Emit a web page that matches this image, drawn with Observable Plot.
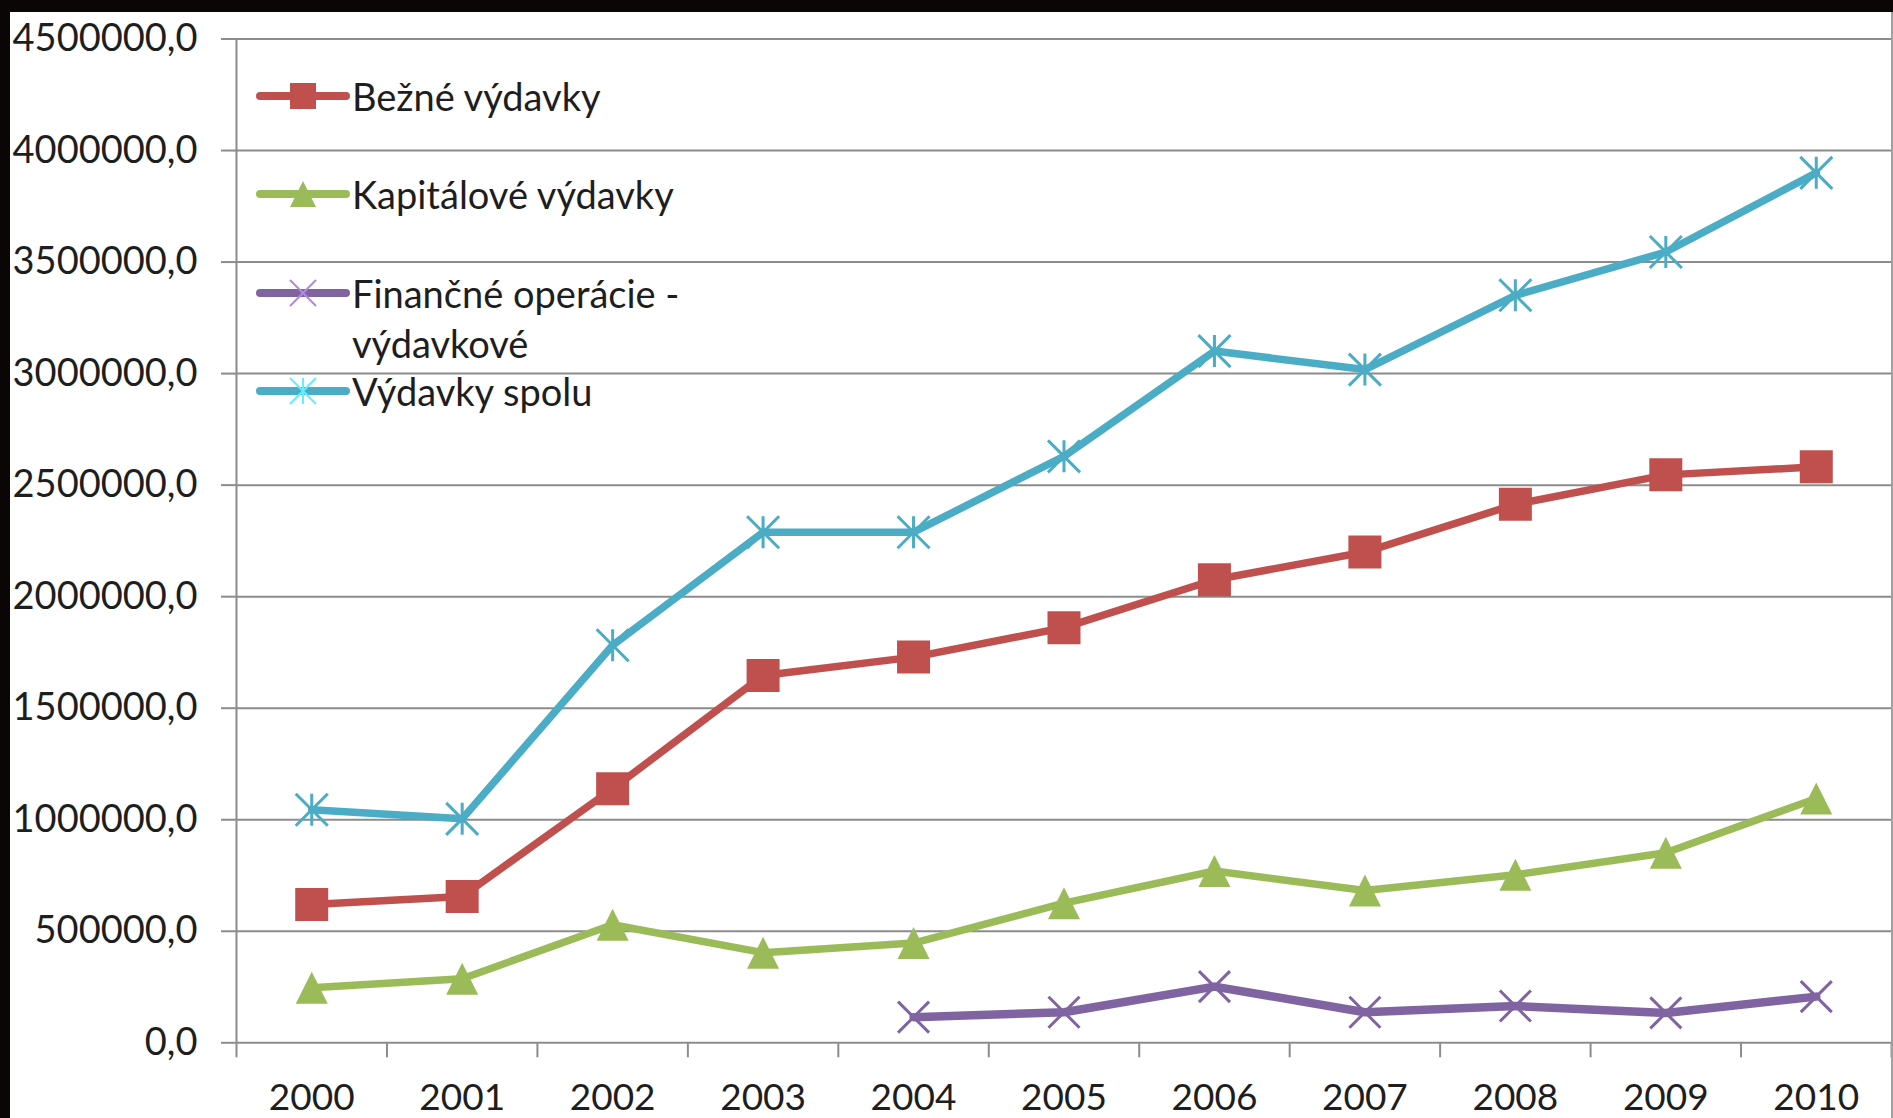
<!DOCTYPE html>
<html>
<head>
<meta charset="utf-8">
<script src="https://cdn.jsdelivr.net/npm/d3@7"></script>
<script src="https://cdn.jsdelivr.net/npm/@observablehq/plot@0.6"></script>
<style>
  html, body { margin: 0; padding: 0; background: #0b0606; width: 1893px; height: 1118px; overflow: hidden; }
  #chart { position: absolute; left: 10px; top: 12px; width: 1881px; height: 1106px; background: #fff; border-right: 2px solid #a0a0a0; }
  #legend { position: absolute; left: 0; top: 0; font-family: Lato, "Open Sans", sans-serif; font-size: 38px; color: #1e1e1e; }
  .row { position: absolute; left: 252px; display: flex; align-items: flex-start; }
  .row svg { flex: none; }
  .row .lab { width: 370px; line-height: 50px; margin-left: 0px; }
</style>
</head>
<body>
<div id="chart"></div>
<div id="legend"></div>
<script>
// ---- data ----
const years = [2000, 2001, 2002, 2003, 2004, 2005, 2006, 2007, 2008, 2009, 2010];
const bezneVydavky      = [620000, 656000, 1139000, 1647000, 1729000, 1861000, 2076000, 2200000, 2414000, 2546000, 2582000];
const kapitaloveVydavky = [247000, 287000, 529000, 404000, 447000, 626000, 770000, 683000, 753000, 852000, 1095000];
const financneOperacie  = [null, null, null, null, 115000, 137000, 252000, 137000, 165000, 134000, 207000];
const vydavkySpolu      = [1045000, 1004000, 1782000, 2289000, 2289000, 2629000, 3101000, 3018000, 3351000, 3545000, 3900000];
const seriesNames = ["Bežné výdavky", "Kapitálové výdavky", "Finančné operácie - výdavkové", "Výdavky spolu"];
const yTicks = [0, 500000, 1000000, 1500000, 2000000, 2500000, 3000000, 3500000, 4000000, 4500000];

// ---- styles ----
const colors = ["#C0504D", "#9BBB59", "#8064A2", "#4BACC6"];
const squareSym = {draw(c, size) { const a = Math.sqrt(size) / 2; c.rect(-a, -a, 2 * a, 2 * a); }};
const triSym = {draw(c, size) { const a = Math.sqrt(size) / 2; c.moveTo(0, -a); c.lineTo(a, a); c.lineTo(-a, a); c.closePath(); }};
const timesSym = {draw(c, size) { const a = Math.sqrt(size) / 2; c.moveTo(-a, -a); c.lineTo(a, a); c.moveTo(-a, a); c.lineTo(a, -a); }};
const starSym = {draw(c, size) { const a = Math.sqrt(size) / 2; c.moveTo(-a, -a); c.lineTo(a, a); c.moveTo(-a, a); c.lineTo(a, -a); c.moveTo(0, -a); c.lineTo(0, a); }};
const symbols = [squareSym, triSym, timesSym, starSym];
const filled = [true, true, false, false];
const markerSize = [33, 32, 31, 32];
const lineWidths = [7.5, 7.5, 8.5, 7.5];

const seriesValues = [bezneVydavky, kapitaloveVydavky, financneOperacie, vydavkySpolu];
const tables = seriesValues.map((vals, i) =>
  years.map((yr, j) => ({year: yr, value: vals[j], series: seriesNames[i]})).filter(d => d.value != null)
);
const bounds = years.map(y => y - 0.5).concat([years[years.length - 1] + 0.5]);
const gridColor = "#8c8c8c";
const fmt = d => d.toFixed(1).replace(".", ",");

const marks = [
  Plot.gridY(yTicks, {stroke: gridColor, strokeOpacity: 1, strokeWidth: 2}),
  Plot.ruleX([bounds[0]], {stroke: gridColor, strokeWidth: 2}),
  Plot.axisY(yTicks, {label: null, tickSize: 15, tickPadding: 24, tickFormat: fmt, stroke: gridColor, strokeWidth: 2, fill: "#1e1e1e", fontSize: 38}),
  Plot.axisX(bounds, {label: null, tickSize: 15, tickFormat: () => "", stroke: gridColor, strokeWidth: 2}),
  Plot.axisX(years, {label: null, tickSize: 0, tickPadding: 41, tickFormat: d => String(d), fill: "#1e1e1e", fontSize: 37})
];
tables.forEach((t, i) => {
  marks.push(Plot.line(t, {x: "year", y: "value", stroke: colors[i], strokeWidth: lineWidths[i], strokeLinejoin: "round", strokeLinecap: "round"}));
  const D = markerSize[i];
  const r = D / Math.sqrt(Math.PI);
  marks.push(Plot.dot(t, filled[i]
    ? {x: "year", y: "value", symbol: symbols[i], r, fill: colors[i], stroke: "none"}
    : {x: "year", y: "value", symbol: symbols[i], r, fill: "none", stroke: colors[i], strokeWidth: 3}));
});

const chart = Plot.plot({
  width: 1881,
  height: 1106,
  marginLeft: 226,
  marginRight: 0,
  marginTop: 26.5,
  marginBottom: 75.7,
  style: {fontFamily: "Lato, 'Open Sans', sans-serif", fontSize: "37px", color: "#1e1e1e", background: "#fff"},
  x: {type: "linear", domain: [bounds[0], bounds[bounds.length - 1]], axis: null},
  y: {type: "linear", domain: [0, 4500000], axis: null},
  marks
});
document.getElementById("chart").appendChild(chart);

// ---- legend (inside plot area, top-left) ----
const legend = document.getElementById("legend");
const rowCenters = [96, 194, 293, 391];
const legendMarker = 26;
seriesNames.forEach((name, i) => {
  const row = document.createElement("div");
  row.className = "row";
  row.style.top = (rowCenters[i] - 25) + "px";
  const sw = d3.create("svg").attr("width", 100).attr("height", 50);
  sw.append("line").attr("x1", 8).attr("x2", 94).attr("y1", 25).attr("y2", 25)
    .attr("stroke", colors[i]).attr("stroke-width", 8).attr("stroke-linecap", "round");
  const p = sw.append("path").attr("transform", "translate(51,25)")
    .attr("d", d3.symbol(symbols[i], legendMarker * legendMarker)());
  if (filled[i]) p.attr("fill", colors[i]);
  else p.attr("fill", "none").attr("stroke", d3.color(colors[i]).brighter(0.9)).attr("stroke-width", 2);
  row.appendChild(sw.node());
  const lab = document.createElement("div");
  lab.className = "lab";
  lab.textContent = name;
  row.appendChild(lab);
  legend.appendChild(row);
});
</script>
</body>
</html>
